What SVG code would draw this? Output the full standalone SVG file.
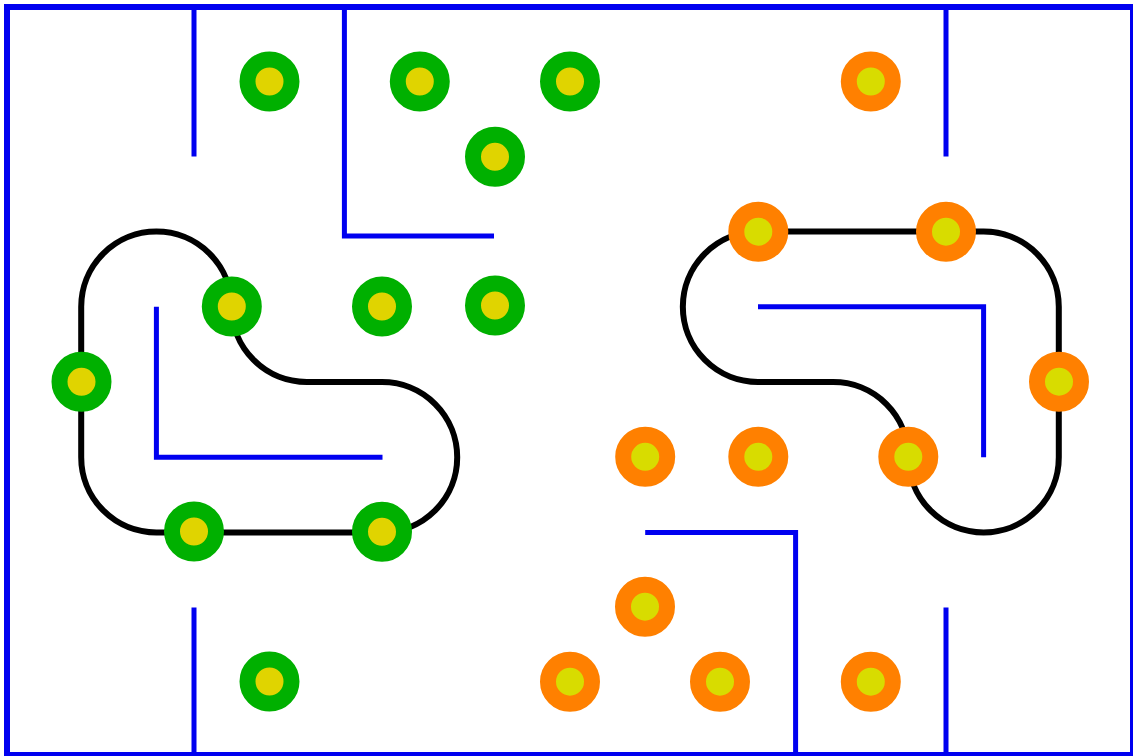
<svg xmlns="http://www.w3.org/2000/svg" width="1133" height="756" viewBox="0 0 1133 756">
<style>
.wall{fill:none;stroke:#0000f0;stroke-width:5;stroke-linecap:butt;stroke-linejoin:miter}
.loop{fill:none;stroke:#000;stroke-width:6}
.g{fill:#e0d400;stroke:#00b000;stroke-width:16}
.o{fill:#d8dc00;stroke:#ff8000;stroke-width:16}
</style>
<rect x="0" y="0" width="1133" height="756" fill="#fff"/>
<rect x="7" y="7" width="1126" height="748" fill="none" stroke="#0000f0" stroke-width="6"/>
<g id="walls">
<path class="wall" d="M194 7V156.4"/>
<path class="wall" d="M344.4 7V236H494"/>
<path class="wall" d="M156.4 306.8V457.2H382.5"/>
<path class="wall" d="M946 7V156.4"/>
<path class="wall" d="M194 607.6V756"/>
<path class="wall" d="M946 607.6V756"/>
<path class="wall" d="M645.2 532.4H795.6V756"/>
<path class="wall" d="M758 306.8H983.6V457.2"/>
</g>
<g id="connectors">
<path id="loop-left" class="loop" d="M81.2 306.8A75.2 75.2 0 0 1 231.6 306.8A75.2 75.2 0 0 0 306.8 382L382 382A75.2 75.2 0 0 1 382 532.4L156.4 532.4A75.2 75.2 0 0 1 81.2 457.2Z"/>
<path id="loop-right" class="loop" d="M758 231.6L983.6 231.6A75.2 75.2 0 0 1 1058.8 306.8L1058.8 457.2A75.2 75.2 0 0 1 908.4 457.2A75.2 75.2 0 0 0 833.2 382L758 382A75.2 75.2 0 0 1 758 231.6Z"/>
</g>
<g id="green-discs">
<g id="g1"><circle class="g" cx="269.5" cy="81.5" r="22"/></g>
<g id="g2"><circle class="g" cx="419.8" cy="81.5" r="22"/></g>
<g id="g3"><circle class="g" cx="570" cy="81.5" r="22"/></g>
<g id="g4"><circle class="g" cx="495" cy="156.8" r="22"/></g>
<g id="g5"><circle class="g" cx="231.8" cy="306.5" r="22"/></g>
<g id="g6"><circle class="g" cx="382" cy="306.5" r="22"/></g>
<g id="g7"><circle class="g" cx="495" cy="305.5" r="22"/></g>
<g id="g8"><circle class="g" cx="81.5" cy="381.8" r="22"/></g>
<g id="g9"><circle class="g" cx="194" cy="531.5" r="22"/></g>
<g id="g10"><circle class="g" cx="382" cy="531.8" r="22"/></g>
<g id="g11"><circle class="g" cx="269.5" cy="681.5" r="22"/></g>
</g>
<g id="orange-discs">
<g id="o1"><circle class="o" cx="870.8" cy="81.5" r="22"/></g>
<g id="o2"><circle class="o" cx="758.3" cy="231.7" r="22"/></g>
<g id="o3"><circle class="o" cx="946" cy="231.7" r="22"/></g>
<g id="o4"><circle class="o" cx="1059" cy="381.7" r="22"/></g>
<g id="o5"><circle class="o" cx="645.2" cy="456.8" r="22"/></g>
<g id="o6"><circle class="o" cx="758.3" cy="456.8" r="22"/></g>
<g id="o7"><circle class="o" cx="908.3" cy="456.8" r="22"/></g>
<g id="o8"><circle class="o" cx="645" cy="606.7" r="22"/></g>
<g id="o9"><circle class="o" cx="570" cy="681.7" r="22"/></g>
<g id="o10"><circle class="o" cx="720" cy="681.7" r="22"/></g>
<g id="o11"><circle class="o" cx="870.8" cy="681.7" r="22"/></g>
</g>
</svg>
